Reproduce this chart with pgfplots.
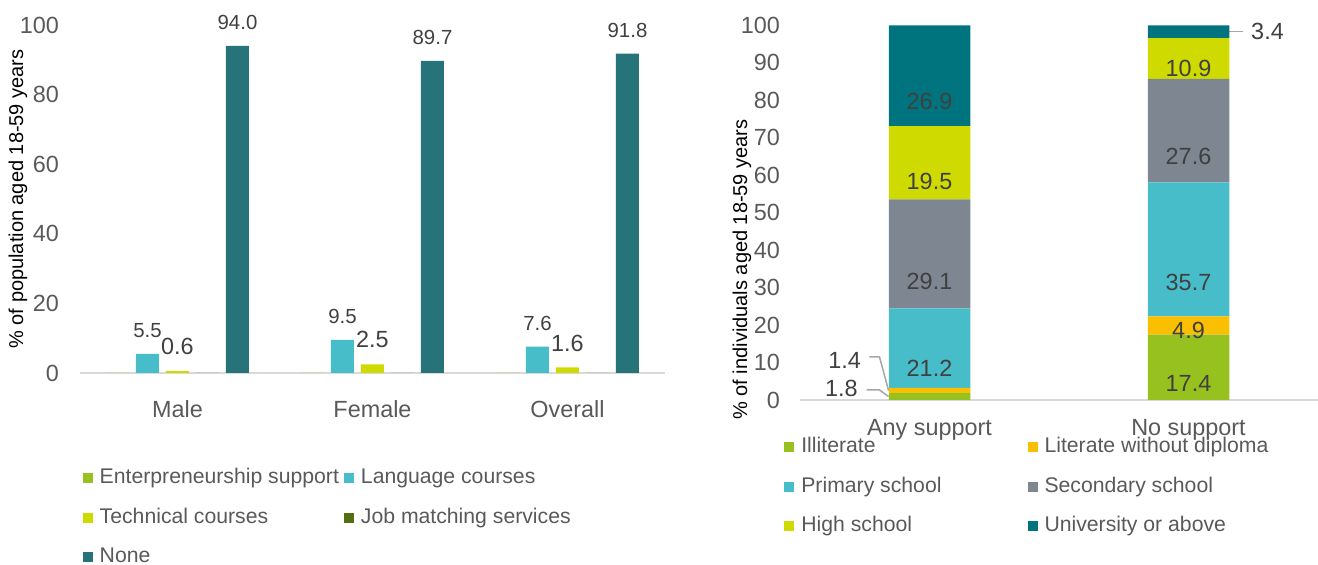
\documentclass[border=0pt]{standalone}
\usepackage{fontspec}
\setmainfont{Liberation Sans}
\usepackage{pgfplots}
\pgfplotsset{compat=1.18}
\definecolor{cEnt}{HTML}{97C11F}
\definecolor{cLang}{HTML}{47BDCA}
\definecolor{cTech}{HTML}{CFDB00}
\definecolor{cJob}{HTML}{546E14}
\definecolor{cNone}{HTML}{26737A}
\definecolor{cLit}{HTML}{F9BF00}
\definecolor{cSec}{HTML}{7E8691}
\definecolor{cUni}{HTML}{00747E}
\definecolor{txt}{HTML}{595959}
\definecolor{lab}{HTML}{404040}
\definecolor{axl}{HTML}{D9D9D9}
\definecolor{lead}{HTML}{A6A6A6}
\newcommand{\fbig}{\fontsize{11.7}{14}\selectfont}
\newcommand{\fmid}{\fontsize{10.6}{12.5}\selectfont}
\newcommand{\fsml}{\fontsize{10.2}{12}\selectfont}
\pgfplotsset{
  sqlegend/.style={legend image code/.code={\fill[##1] (0pt,-2.5pt) rectangle (5pt,2.5pt);}},
  base/.style={
    scale only axis, clip=false,
    axis lines*=left, axis line style={-},
    y axis line style={draw=none},
    x axis line style={draw=axl, line width=0.75pt},
    tick style={draw=none},
    ticklabel style={text=txt, font=\fbig},
    xticklabel style={yshift=-6pt},
    /pgf/number format/assume math mode=true,
    ymin=0, ymax=100, xmin=-0.5,
    ylabel style={font=\fmid, text=txt},
    legend columns=2, legend cell align=left,
  },
}
\begin{document}
\begin{tikzpicture}
\useasboundingbox (0,0) rectangle (659pt,282.5pt);
% ---------------- left chart
\begin{axis}[base,
  at={(40pt,96pt)}, anchor=south west,
  width=292.5pt, height=174pt,
  xmax=2.5,
  ybar=3.5pt, bar width=11.5pt,
  xtick={0,1,2}, xticklabels={Male,Female,Overall},
  ytick={0,20,...,100},
  yticklabel style={xshift=-7pt},
  ylabel={\% of population aged 18-59 years},
  every axis y label/.style={at={(axis description cs:-0.106,0.5)}, rotate=90, anchor=center},
  legend style={at={(axis description cs:0.004,-0.265)}, anchor=north west, draw=none, fill=none,
    inner sep=0pt, font=\fmid, text=txt,
    nodes={inner sep=1pt, text height=8pt, text depth=2.5pt},
    row sep=7.25pt,
    /tikz/every odd column/.append style={column sep=2.5pt},
    /tikz/every even column/.append style={column sep=1.5pt}},
  nodes near coords style={text=lab, anchor=south, yshift=4.5pt},
]
\addplot[fill=cEnt, draw=none, sqlegend] coordinates {(0,0) (1,0) (2,0)};
\addlegendentry{Enterpreneurship support}
\addplot[fill=cLang, draw=none, sqlegend, nodes near coords={\pgfmathprintnumber[fixed,fixed zerofill,precision=1]{\pgfplotspointmeta}}, nodes near coords style={font=\fsml}] coordinates {(0,5.5) (1,9.5) (2,7.6)};
\addlegendentry{Language courses}
\addplot[fill=cTech, draw=none, sqlegend, nodes near coords={\pgfmathprintnumber[fixed,fixed zerofill,precision=1]{\pgfplotspointmeta}}, nodes near coords style={font=\fbig}] coordinates {(0,0.6) (1,2.5) (2,1.6)};
\addlegendentry{Technical courses}
\addplot[fill=cJob, draw=none, sqlegend] coordinates {(0,0) (1,0) (2,0)};
\addlegendentry{Job matching services}
\addplot[fill=cNone, draw=none, sqlegend, nodes near coords={\pgfmathprintnumber[fixed,fixed zerofill,precision=1]{\pgfplotspointmeta}}, nodes near coords style={font=\fsml}] coordinates {(0,94.0) (1,89.7) (2,91.8)};
\addlegendentry{None}
\end{axis}
% ---------------- right chart
\begin{axis}[base,
  at={(400pt,82.5pt)}, anchor=south west,
  width=259pt, height=187.5pt,
  xmax=1.5,
  ybar stacked, bar width=40.75pt,
  xtick={0,1}, xticklabels={Any support,No support},
  ytick={0,10,...,100},
  yticklabel style={xshift=-6.5pt},
  ylabel={\% of individuals aged 18-59 years},
  every axis y label/.style={at={(axis description cs:-0.112,0.348)}, rotate=90, anchor=center},
  legend style={at={(axis description cs:-0.031,-0.091)}, anchor=north west, draw=none, fill=none,
    inner sep=0pt, font=\fmid, text=txt,
    nodes={inner sep=1pt, text height=8pt, text depth=2.5pt},
    row sep=7.25pt,
    /tikz/every odd column/.append style={column sep=2.5pt},
    /tikz/every even column/.append style={column sep=42pt}},
  inlab/.style={
    sqlegend,
    visualization depends on=value \thisrow{y}\as\rawy,
    nodes near coords={\ifdim\rawy pt<4pt\relax\else\rawy\fi},
    nodes near coords style={anchor=center, yshift=-\rawy*0.46875pt, font=\fbig, text=lab},
  },
]
\addplot[fill=cEnt, draw=none, inlab] table[x=x,y=y] {
x y
0 1.8
1 17.4
};
\addlegendentry{Illiterate}
\addplot[fill=cLit, draw=none, inlab] table[x=x,y=y] {
x y
0 1.4
1 4.9
};
\addlegendentry{Literate without diploma}
\addplot[fill=cLang, draw=none, inlab] table[x=x,y=y] {
x y
0 21.2
1 35.7
};
\addlegendentry{Primary school}
\addplot[fill=cSec, draw=none, inlab] table[x=x,y=y] {
x y
0 29.1
1 27.6
};
\addlegendentry{Secondary school}
\addplot[fill=cTech, draw=none, inlab] table[x=x,y=y] {
x y
0 19.5
1 10.9
};
\addlegendentry{High school}
\addplot[fill=cUni, draw=none, inlab] table[x=x,y=y] {
x y
0 26.9
1 3.4
};
\addlegendentry{University or above}
\draw[lead, line width=0.75pt] (axis cs:-0.232,11.47) -- (axis cs:-0.193,11.47) -- (axis cs:-0.158,2.5);
\node[font=\fbig, text=lab] at (axis cs:-0.328,10.67) {1.4};
\draw[lead, line width=0.75pt] (axis cs:-0.243,2.67) -- (axis cs:-0.193,2.67) -- (axis cs:-0.158,0.9);
\node[font=\fbig, text=lab] at (axis cs:-0.34,3.2) {1.8};
\draw[lead, line width=0.75pt] (axis cs:1.158,98.3) -- (axis cs:1.212,98.3);
\node[font=\fbig, text=lab] at (axis cs:1.305,98.3) {3.4};
\end{axis}
\end{tikzpicture}
\end{document}
